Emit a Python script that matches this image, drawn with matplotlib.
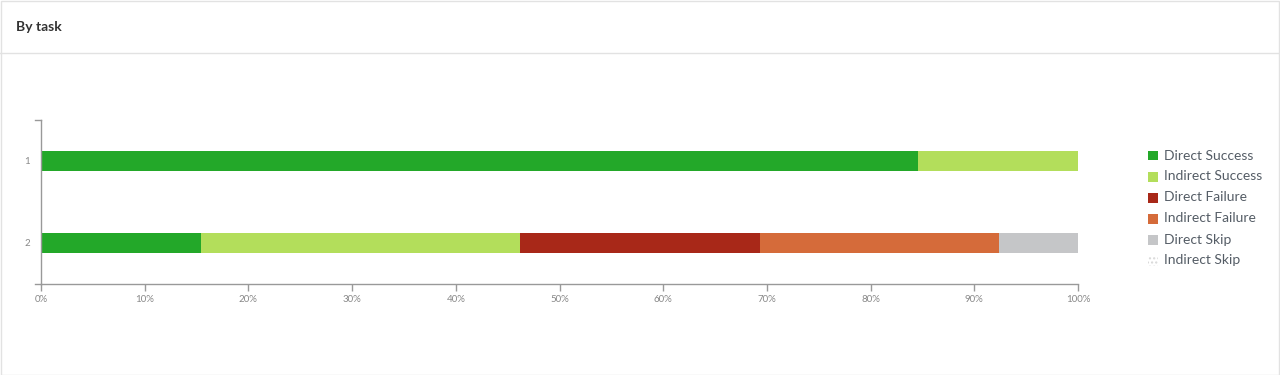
import matplotlib
matplotlib.use('Agg')
import matplotlib.pyplot as plt
from matplotlib.patches import Rectangle
import numpy as np

plt.rcParams['font.family'] = ['Lato', 'DejaVu Sans']

# data
tasks = ['1', '2']
series = ['Direct Success', 'Indirect Success', 'Direct Failure',
          'Indirect Failure', 'Direct Skip', 'Indirect Skip']
direct_success = [84.6, 15.4]
indirect_success = [15.4, 30.8]
direct_failure = [0.0, 23.1]
indirect_failure = [0.0, 23.1]
direct_skip = [0.0, 7.6]
indirect_skip = [0.0, 0.0]
xticks = list(range(0, 101, 10))

colors = ['#23a829', '#b3de5b', '#a82818', '#d56b3a', '#c5c6c8', '#e6e6e6']
values = [direct_success, indirect_success, direct_failure,
          indirect_failure, direct_skip, indirect_skip]

W, H = 1280, 375
fig = plt.figure(figsize=(W / 100, H / 100), dpi=100)

# card frame and header line
fig.patches.append(Rectangle((0.5 / W, 0.5 / H), 1 - 1.5 / W, 1 - 1.5 / H,
                             transform=fig.transFigure, fill=False,
                             edgecolor='#e2e2e2', linewidth=1))
fig.lines.append(plt.Line2D([0, 1], [1 - 52.5 / H, 1 - 52.5 / H],
                            transform=fig.transFigure, color='#e2e2e2', linewidth=1))
fig.text(16 / W, 1 - 27 / H, 'By task', fontsize=10, fontweight='bold',
         color='#333333', va='center', ha='left')

ax = fig.add_axes([41 / W, 1 - 284 / H, (1078 - 41) / W, (284 - 120) / H])

y = np.arange(len(tasks)) + 1
left = np.zeros(len(tasks))
for name, vals, c in zip(series, values, colors):
    vals = np.array(vals)
    if name == 'Indirect Skip':
        ax.barh(y, vals, left=left, height=0.25, color='white', edgecolor=c,
                hatch='....', linewidth=0)
    else:
        ax.barh(y, vals, left=left, height=0.25, color=c, linewidth=0)
    left += vals

ax.set_xlim(0, 100)
ax.set_ylim(2.5, 0.5)
ax.set_xticks(xticks)
ax.set_xticklabels([f'{t}%' for t in xticks])
ax.set_yticks(y)
ax.set_yticklabels(tasks)

for s in ['top', 'right']:
    ax.spines[s].set_visible(False)
for s in ['left', 'bottom']:
    ax.spines[s].set_color('#999999')
    ax.spines[s].set_linewidth(1)
ax.tick_params(axis='x', colors='#999999', labelsize=7, length=5, width=1, pad=3)
ax.tick_params(axis='y', colors='#999999', labelsize=7, length=0, pad=8)
ax.tick_params(axis='x', labelcolor='#888888')
ax.tick_params(axis='y', labelcolor='#888888')

# outer ticks on y axis ends
for yy in [0.5, 2.5]:
    ax.plot([-0.55, 0], [yy, yy], color='#999999', linewidth=1, clip_on=False)

# legend
for i, (name, c) in enumerate(zip(series, colors)):
    ly = 155.5 + i * 21
    if name == 'Indirect Skip':
        fig.patches.append(Rectangle((1148 / W, 1 - (ly + 5) / H), 10 / W, 10 / H,
                                     transform=fig.transFigure, facecolor='white',
                                     edgecolor='#d8d8d8', hatch='....', linewidth=0))
    else:
        fig.patches.append(Rectangle((1148 / W, 1 - (ly + 5) / H), 10 / W, 10 / H,
                                     transform=fig.transFigure, facecolor=c, linewidth=0))
    fig.text(1164 / W, 1 - ly / H, name, fontsize=10, color='#555d66',
             va='center', ha='left')

fig.savefig('out.png', dpi=100)
